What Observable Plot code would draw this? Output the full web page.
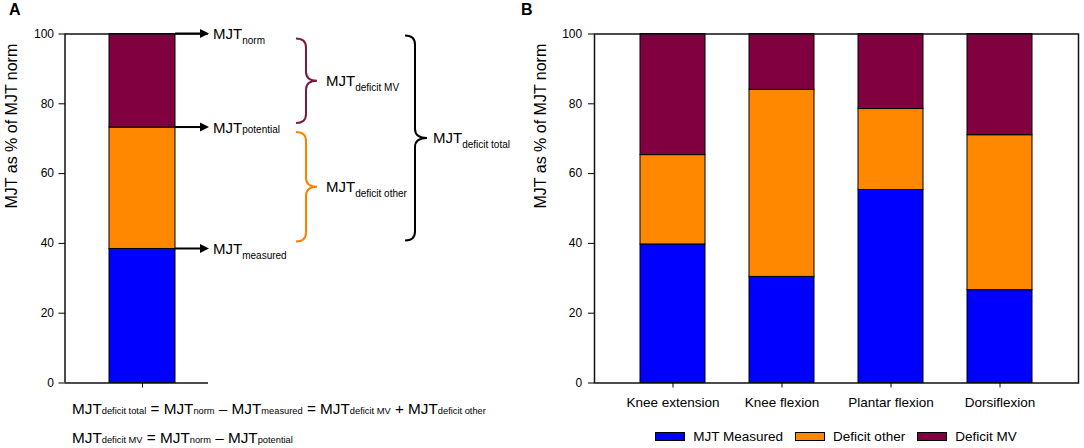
<!DOCTYPE html>
<html>
<head>
<meta charset="utf-8">
<script src="https://cdn.jsdelivr.net/npm/d3@7"></script>
<script src="https://cdn.jsdelivr.net/npm/@observablehq/plot@0.6"></script>
<style>
  html, body { margin: 0; padding: 0; background: #fff; }
  #wrap { position: relative; width: 1084px; height: 448px; font-family: 'Liberation Sans', Arial, sans-serif; color: #000; }
  .panel { position: absolute; top: 0; }
  .letter { position: absolute; top: 2px; font-weight: bold; font-size: 16px; line-height: 16px; }
  #legend { position: absolute; left: 594px; width: 484px; top: 428px; height: 16px; display: flex; justify-content: center; align-items: center; font-size: 13.5px; }
  #legend .item { display: flex; align-items: center; margin: 0 6px; }
  #legend .sw { display: inline-block; width: 30px; height: 9px; box-sizing: border-box; border: 1px solid #000; margin-right: 8px; }
</style>
</head>
<body>
<div id="wrap">
  <div class="letter" style="left:9px">A</div>
  <div class="letter" style="left:521px">B</div>
  <div id="panelA" class="panel" style="left:0px"></div>
  <div id="panelB" class="panel" style="left:540px"></div>
  <div id="legend"></div>
</div>
<script>
const FONT = "'Liberation Sans', Arial, sans-serif";

// ---- data ----
const segments = ["MJT Measured", "Deficit other", "Deficit MV"];
const segmentColors = ["#0000ff", "#ff8800", "#800040"];
const yTicks = [0, 20, 40, 60, 80, 100];
const yTitle = "MJT as % of MJT norm";

// Panel A (illustration)
const exampleCategory = ["Illustration"];
const exampleValues = [38.4, 34.8, 26.8];
const levelNames = ["norm", "potential", "measured"];
const levelValues = [100, 73.2, 38.4];
const levelSubDrop = [5, 0, 5];
const braceNames = ["deficit MV", "deficit other", "deficit total"];
const braceFrom = [73.2, 38.4, 38.4];
const braceTo = [100, 73.2, 100];
const braceColors = ["#7a1a45", "#ff8000", "#000000"];

// Panel B (joints)
const joints = ["Knee extension", "Knee flexion", "Plantar flexion", "Dorsiflexion"];
const mjtMeasured = [39.7, 30.4, 55.3, 26.6];
const deficitOther = [25.6, 53.6, 23.2, 44.4];
const deficitMV = [34.7, 16.0, 21.5, 29.0];

const formulaLine1 = [["MJT",0],["deficit total",1],[" = MJT",0],["norm",1],[" \u2013 MJT",0],["measured",1],[" = MJT",0],["deficit MV",1],[" + MJT",0],["deficit other",1]];
const formulaLine2 = [["MJT",0],["deficit MV",1],[" = MJT",0],["norm",1],[" \u2013 MJT",0],["potential",1]];

// ---- tables ----
const rowsA = segments.map((s, i) => ({cat: exampleCategory[0], segment: s, value: exampleValues[i]}));
const seriesB = [mjtMeasured, deficitOther, deficitMV];
const rowsB = joints.flatMap((j, i) => segments.map((s, k) => ({joint: j, segment: s, value: seriesB[k][i]})));

function labelText(g, x, y, sub, drop, color) {
  const t = g.append("text").attr("x", x).attr("y", y).attr("fill", color || "#000")
    .attr("text-anchor", "start").attr("font-family", FONT);
  t.append("tspan").attr("font-size", 15).text("MJT");
  t.append("tspan").attr("font-size", 10).attr("dy", drop).text(sub);
}

function formula(g, x, y, parts) {
  const t = g.append("text").attr("x", x).attr("y", y).attr("font-family", FONT).attr("fill", "#000")
    .attr("text-anchor", "start").style("white-space", "pre");
  parts.forEach(([s, isSub]) => t.append("tspan").attr("font-size", isSub ? 9.3 : 15.3).text(s));
}

function annotateA(index, scales, values, dims) {
  const x = scales.x, y = scales.y;
  const bw = x.bandwidth ? x.bandwidth() : 66;
  const xr = x(exampleCategory[0]) + bw;
  const g = d3.create("svg:g").attr("text-anchor", "start");
  // left frame line
  g.append("line").attr("x1", dims.marginLeft).attr("x2", dims.marginLeft)
    .attr("y1", dims.marginTop).attr("y2", dims.height - dims.marginBottom)
    .attr("stroke", "#111").attr("stroke-width", 1.5);
  // arrows + level labels
  levelValues.forEach((v, i) => {
    const yy = y(v), tip = xr + 34;
    g.append("line").attr("x1", xr).attr("x2", tip - 6).attr("y1", yy).attr("y2", yy)
      .attr("stroke", "#000").attr("stroke-width", 2);
    g.append("path").attr("d", `M${tip},${yy}L${tip - 9},${yy - 4.5}L${tip - 9},${yy + 4.5}Z`).attr("fill", "#000");
    labelText(g, tip + 4, yy + 5.5, levelNames[i], levelSubDrop[i]);
  });
  // braces
  const geo = [
    {tip: 121, spine: 131, point: 142, text: 151, insTop: 5, insBot: 4},
    {tip: 121, spine: 131, point: 142, text: 151, insTop: 5, insBot: 7},
    {tip: 230, spine: 240, point: 252, text: 258, insTop: 2, insBot: 8}
  ];
  braceNames.forEach((name, i) => {
    const q = geo[i];
    const t = y(braceTo[i]) + q.insTop, b = y(braceFrom[i]) - q.insBot, m = (t + b) / 2;
    const x0 = xr + q.tip, xs = xr + q.spine, xp = xr + q.point, r = 9;
    const d = `M${x0},${t}Q${xs},${t} ${xs},${t + r}L${xs},${m - r}Q${xs},${m} ${xp},${m}` +
              `M${xp},${m}Q${xs},${m} ${xs},${m + r}L${xs},${b - r}Q${xs},${b} ${x0},${b}`;
    g.append("path").attr("d", d).attr("fill", "none").attr("stroke", braceColors[i]).attr("stroke-width", 2);
    labelText(g, xr + q.text, m + 5.5, name, 5);
  });
  // formulas
  formula(g, dims.marginLeft + 7, 414, formulaLine1);
  formula(g, dims.marginLeft + 7, 443, formulaLine2);
  return g.node();
}

const plotA = Plot.plot({
  width: 540, height: 448,
  marginLeft: 65, marginRight: 332, marginTop: 33.5, marginBottom: 65.5,
  style: {fontFamily: FONT, fontSize: "12px", color: "#000", background: "transparent", overflow: "visible"},
  x: {type: "band", domain: exampleCategory, paddingInner: 0, paddingOuter: 0.5833, align: 0.5714, label: null},
  y: {domain: [0, 100], label: null},
  color: {domain: segments, range: segmentColors},
  marks: [
    Plot.barY(rowsA, {x: "cat", y: "value", fill: "segment", stroke: "#000", strokeWidth: 1}),
    Plot.ruleY([0, 100], {stroke: "#111", strokeWidth: 1.5}),
    Plot.axisY({ticks: yTicks, tickSize: 6.5, tickPadding: 5, fontSize: 12, label: null}),
    Plot.axisX({tickSize: 5, tickFormat: () => "", label: null}),
    Plot.text([yTitle], {text: d => d, frameAnchor: "left", rotate: -90, dx: -54, fontSize: 16}),
    annotateA
  ]
});
document.getElementById("panelA").appendChild(plotA);

const plotB = Plot.plot({
  width: 544, height: 448,
  marginLeft: 54, marginRight: 6, marginTop: 33.5, marginBottom: 65.5,
  style: {fontFamily: FONT, fontSize: "12px", color: "#000", background: "transparent", overflow: "visible"},
  x: {domain: joints, paddingInner: 0.4, paddingOuter: 0.4, label: null},
  y: {domain: [0, 100], label: null},
  color: {domain: segments, range: segmentColors},
  marks: [
    Plot.barY(rowsB, {x: "joint", y: "value", fill: "segment", stroke: "#000", strokeWidth: 1}),
    Plot.frame({stroke: "#111", strokeWidth: 1.5}),
    Plot.axisY({ticks: yTicks, tickSize: 6, tickPadding: 6.3, fontSize: 12, label: null}),
    Plot.axisX({tickSize: 5, tickPadding: 9, fontSize: 13.5, label: null}),
    Plot.text([yTitle], {text: d => d, frameAnchor: "left", rotate: -90, dx: -54, fontSize: 16})
  ]
});
document.getElementById("panelB").appendChild(plotB);

// legend from plot B's color scale
const colorScale = plotB.scale("color");
const legend = d3.select("#legend");
colorScale.domain.forEach((name, i) => {
  const item = legend.append("div").attr("class", "item");
  item.append("span").attr("class", "sw").style("background", colorScale.range[i]);
  item.append("span").text(name);
});
</script>
</body>
</html>
